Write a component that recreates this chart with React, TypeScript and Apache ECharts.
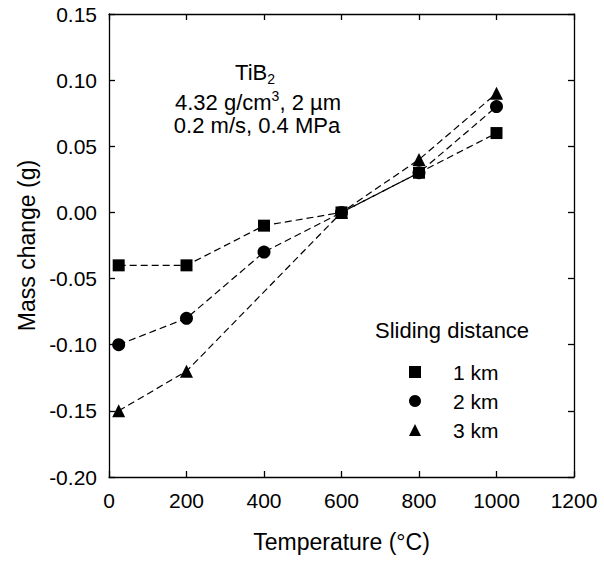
import React, { useEffect, useRef } from "react";
import * as echarts from "echarts";

const temps1 = [25, 200, 400, 600, 800, 1000];
const mass1 = [-0.04, -0.04, -0.01, 0, 0.03, 0.06];
const temps2 = [25, 200, 400, 600, 800, 1000];
const mass2 = [-0.1, -0.08, -0.03, 0, 0.03, 0.08];
const temps3 = [25, 200, 600, 800, 1000];
const mass3 = [-0.15, -0.12, 0, 0.04, 0.09];
const seriesNames = ["1 km", "2 km", "3 km"];
const xTitle = "Temperature (°C)";
const yTitle = "Mass change (g)";

const FONT = "'Liberation Sans', Arial, Helvetica, sans-serif";

export default function App() {
  const ref = useRef<HTMLDivElement>(null);
  useEffect(() => {
    if (!ref.current) return;
    const chart = echarts.init(ref.current, null, { renderer: "svg" });
    const pair = (xs: number[], ys: number[]) => xs.map((x, i) => [x, ys[i]]);
    const lineStyle = { color: "#000", width: 1.2, type: [7, 4] as any };
    const axisCommon = {
      min: 0,
      max: 1200,
      interval: 200,
      axisLine: { show: true, onZero: false, lineStyle: { color: "#000", width: 1.3 } },
      axisTick: { show: true, inside: true, length: 6, lineStyle: { color: "#000", width: 1.3 } },
      splitLine: { show: false },
    };
    const yCommon = {
      min: -0.2,
      max: 0.15,
      interval: 0.05,
      axisLine: { show: true, onZero: false, lineStyle: { color: "#000", width: 1.3 } },
      axisTick: { show: true, inside: true, length: 6, lineStyle: { color: "#000", width: 1.3 } },
      splitLine: { show: false },
    };
    chart.setOption({
      animation: false,
      backgroundColor: "#fff",
      textStyle: { fontFamily: FONT },
      grid: { left: 109, right: 30, top: 14, bottom: 85, containLabel: false },
      xAxis: [
        {
          type: "value",
          position: "bottom",
          ...axisCommon,
          name: xTitle,
          nameLocation: "middle",
          nameGap: 53,
          nameTextStyle: { fontSize: 23, color: "#000", fontFamily: FONT },
          axisLabel: {
            fontSize: 21,
            color: "#000",
            margin: 13,
            fontFamily: FONT,
            formatter: (v: number) => String(v),
          },
        },
        {
          type: "value",
          position: "top",
          ...axisCommon,
          axisLabel: { show: false },
        },
      ],
      yAxis: [
        {
          type: "value",
          position: "left",
          ...yCommon,
          name: yTitle,
          nameLocation: "middle",
          nameGap: 70,
          nameTextStyle: { fontSize: 23, color: "#000", fontFamily: FONT },
          axisLabel: {
            fontSize: 21,
            color: "#000",
            margin: 12,
            fontFamily: FONT,
            formatter: (v: number) => v.toFixed(2),
          },
        },
        {
          type: "value",
          position: "right",
          ...yCommon,
          axisLabel: { show: false },
        },
      ],
      legend: {
        orient: "vertical",
        left: 404,
        top: 356,
        itemWidth: 12,
        itemHeight: 12,
        itemGap: 7,
        data: [
          { name: seriesNames[0], icon: "rect" },
          { name: seriesNames[1], icon: "circle" },
          { name: seriesNames[2], icon: "triangle" },
        ],
        textStyle: { fontSize: 21, color: "#000", fontFamily: FONT, padding: [0, 0, 0, 27], lineHeight: 22 },
        itemStyle: { color: "#000" },
      },
      graphic: [
        {
          type: "text",
          x: 255,
          y: 72,
          style: {
            text: "{a|TiB}{b|2}",
            textAlign: "center",
            textVerticalAlign: "middle",
            fill: "#000",
            rich: {
              a: { fontSize: 22, fontFamily: FONT, lineHeight: 28, fill: "#000" },
              b: { fontSize: 14, fontFamily: FONT, verticalAlign: "bottom", lineHeight: 14, fill: "#000" },
            },
          },
        },
        {
          type: "text",
          x: 258,
          y: 102,
          style: {
            text: "{a|4.32 g/cm}{b|3}{a|, 2 µm}",
            textAlign: "center",
            textVerticalAlign: "middle",
            fill: "#000",
            rich: {
              a: { fontSize: 22, fontFamily: FONT, lineHeight: 26, fill: "#000" },
              b: { fontSize: 14, fontFamily: FONT, verticalAlign: "top", lineHeight: 14, fill: "#000" },
            },
          },
        },
        {
          type: "text",
          x: 257,
          y: 125,
          style: {
            text: "0.2 m/s, 0.4 MPa",
            textAlign: "center",
            textVerticalAlign: "middle",
            fill: "#000",
            font: `22px ${FONT}`,
          },
        },
        {
          type: "text",
          x: 375,
          y: 330,
          style: {
            text: "Sliding distance",
            textAlign: "left",
            textVerticalAlign: "middle",
            fill: "#000",
            font: `22px ${FONT}`,
          },
        },
      ],
      series: [
        {
          name: seriesNames[2],
          type: "line",
          data: pair(temps3, mass3),
          symbol: "triangle",
          symbolSize: 13,
          itemStyle: { color: "#000" },
          lineStyle,
          z: 2,
        },
        {
          name: seriesNames[1],
          type: "line",
          data: pair(temps2, mass2),
          symbol: "circle",
          symbolSize: 13,
          itemStyle: { color: "#000" },
          lineStyle,
          z: 3,
        },
        {
          name: seriesNames[0],
          type: "line",
          data: pair(temps1, mass1),
          symbol: "rect",
          symbolSize: 12,
          itemStyle: { color: "#000" },
          lineStyle,
          z: 4,
        },
      ],
    });
    return () => chart.dispose();
  }, []);
  return <div ref={ref} style={{ width: 604, height: 562, position: "absolute", left: 0, top: 0 }} />;
}
